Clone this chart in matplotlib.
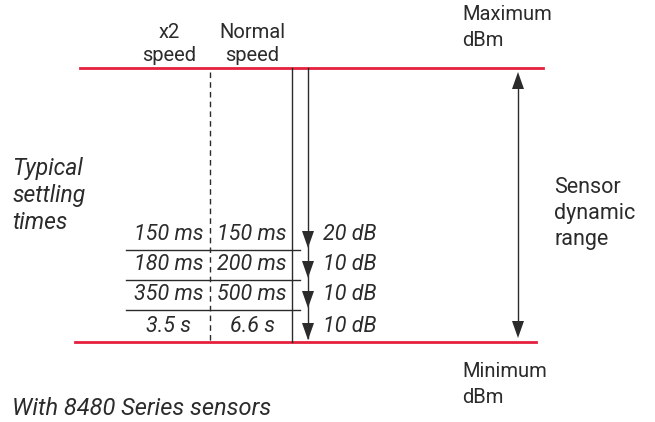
import matplotlib
matplotlib.use("Agg")
import matplotlib.pyplot as plt
from matplotlib.patches import Polygon

# table content
x2_times = ["150 ms", "180 ms", "350 ms", "3.5 s"]
normal_times = ["150 ms", "200 ms", "500 ms", "6.6 s"]
step_db = ["20 dB", "10 dB", "10 dB", "10 dB"]
col_headers = [["x2", "speed"], ["Normal", "speed"]]
max_label = ["Maximum", "dBm"]
min_label = ["Minimum", "dBm"]
range_label = ["Sensor", "dynamic", "range"]
settle_label = ["Typical", "settling", "times"]
footnote = "With 8480 Series sensors"

RED = "#e4203c"
INK = "#2b2b2b"
FONT = "Roboto"

fig = plt.figure(figsize=(6.55, 4.22), dpi=100)
ax = fig.add_axes([0, 0, 1, 1])
ax.set_xlim(0, 655)
ax.set_ylim(422, 0)
ax.axis("off")

# layout (pixel space)
y_top, y_bot = 68, 342
row_edges = [218, 250, 280, 310, 342]
x_col1, x_col2, x_db = 169, 252, 323
x_dash, x_solid, x_arrow, x_range = 210, 292, 308, 518


def head(x, y_tip, up=False, w=6, h=17):
    s = -1 if up else 1
    ax.add_patch(Polygon([(x - w, y_tip - s * h), (x + w, y_tip - s * h), (x, y_tip)],
                         closed=True, color=INK, lw=0))


def lines(x, y0, step, rows, fs, **kw):
    for k, s in enumerate(rows):
        ax.text(x, y0 + k * step, s, color=INK, family=FONT, fontsize=fs,
                va="baseline", **kw)


# red limit lines
ax.plot([80, 543], [y_top, y_top], color=RED, lw=2)
ax.plot([75, 536], [y_bot, y_bot], color=RED, lw=2)

# column dividers
ax.plot([x_dash, x_dash], [y_top + 4, y_bot], color=INK, lw=1, ls=(0, (4, 3)))
ax.plot([x_solid, x_solid], [y_top, y_bot], color=INK, lw=1)
ax.plot([x_arrow, x_arrow], [y_top, y_bot - 4], color=INK, lw=1)
for y in row_edges[1:-1]:
    ax.plot([126, 300], [y, y], color=INK, lw=1)

# step arrowheads
for y in row_edges[1:]:
    head(x_arrow, y - 2)

# dynamic range arrow
ax.plot([x_range, x_range], [y_top + 10, y_bot - 10], color=INK, lw=1)
head(x_range, y_top + 4, up=True)
head(x_range, y_bot - 4)

# table text
for i in range(len(x2_times)):
    yb = row_edges[i + 1] - 10
    lines(x_col1, yb, 0, [x2_times[i]], 15.5, ha="center", style="italic")
    lines(x_col2, yb, 0, [normal_times[i]], 15.5, ha="center", style="italic")
    lines(x_db, yb, 0, [step_db[i]], 15.5, ha="left", style="italic")

for xc, lab in zip([x_col1, x_col2], col_headers):
    lines(xc, 38, 23, lab, 14.5, ha="center")

lines(462, 20, 26, max_label, 14.5, ha="left")
lines(462, 377, 26, min_label, 14.5, ha="left")
lines(554, 193, 26, range_label, 15.5, ha="left")
lines(12, 175, 27, settle_label, 16.5, ha="left", style="italic")
lines(12, 415, 0, [footnote], 17, ha="left", style="italic")

fig.savefig("out.png", dpi=100)
